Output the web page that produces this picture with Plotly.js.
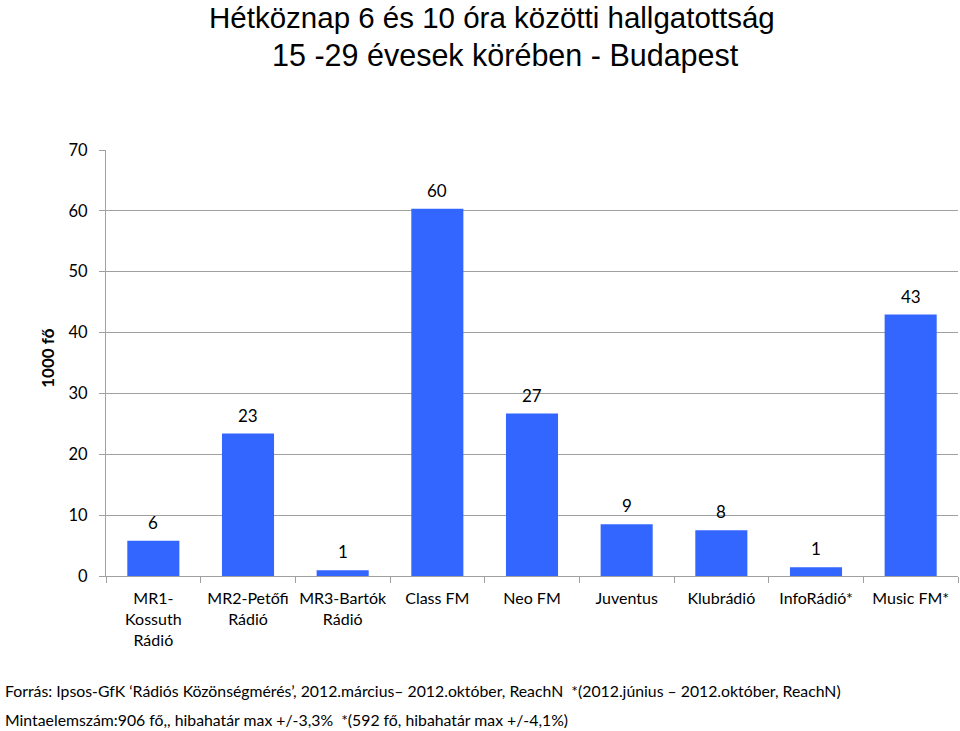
<!DOCTYPE html>
<html>
<head>
<meta charset="utf-8">
<script src="https://cdn.plot.ly/plotly-3.0.1.min.js"></script>
<style>
  html, body { margin: 0; padding: 0; background: #fff; }
  #plot { width: 960px; height: 731px; }
</style>
</head>
<body>
<div id="plot"></div>
<script>
// stations and listeners (1000 fő)
const stations = [
  'MR1-<br>Kossuth<br>Rádió',
  'MR2-Petőfi<br>Rádió',
  'MR3-Bartók<br>Rádió',
  'Class FM',
  'Neo FM',
  'Juventus',
  'Klubrádió',
  'InfoRádió*',
  'Music FM*'
];
const listeners = [5.8, 23.4, 0.95, 60.35, 26.7, 8.5, 7.5, 1.45, 42.95];
const valueLabels = ['6', '23', '1', '60', '27', '9', '8', '1', '43'];

const titleLines = [
  'Hétköznap 6 és 10 óra közötti hallgatottság',
  '15 -29 évesek körében - Budapest'
];
const footnotes = [
  'Forrás: Ipsos-GfK ‘Rádiós Közönségmérés’, 2012.március– 2012.október, ReachN  *(2012.június – 2012.október, ReachN)',
  'Mintaelemszám:906 fő,, hibahatár max +/-3,3%  *(592 fő, hibahatár max +/-4,1%)'
];

const baseFont = 'Lato, "Open Sans", sans-serif';
const gridGray = '#a0a0a0';

const data = [{
  type: 'bar',
  x: stations,
  y: listeners,
  marker: { color: '#3366ff' },
  hoverinfo: 'none'
}];

const annotations = [];
for (let i = 0; i < stations.length; i++) {
  annotations.push({
    x: stations[i],
    y: listeners[i],
    xref: 'x',
    yref: 'y',
    text: valueLabels[i],
    showarrow: false,
    yanchor: 'bottom',
    yshift: 6,
    font: { family: baseFont, size: 17, color: '#000' }
  });
}

// title, two lines placed separately
const titleX = [0.453, 0.469];
const titleY = [1.31, 1.223];
const titleSize = [29.5, 30.5];
for (let i = 0; i < titleLines.length; i++) {
  annotations.push({
    xref: 'paper', yref: 'paper',
    x: titleX[i], y: titleY[i],
    xanchor: 'center', yanchor: 'middle',
    text: titleLines[i],
    showarrow: false,
    font: { family: '"Liberation Sans", Arial, sans-serif', size: titleSize[i], color: '#000' }
  });
}

annotations.push({
  xref: 'paper', yref: 'paper',
  x: -0.068, y: 0.51,
  xanchor: 'center', yanchor: 'middle',
  text: '<b>1000 fő</b>',
  textangle: -90,
  showarrow: false,
  font: { family: baseFont, size: 17, color: '#000' }
});

const footY = [-0.269, -0.337];
for (let i = 0; i < footnotes.length; i++) {
  annotations.push({
    xref: 'paper', yref: 'paper',
    x: -0.121, y: footY[i],
    xanchor: 'left', yanchor: 'middle',
    text: footnotes[i],
    showarrow: false,
    font: { family: baseFont, size: 15.8, color: '#000' }
  });
}

const layout = {
  width: 960,
  height: 731,
  margin: { l: 106, r: 2, t: 150, b: 155 },
  paper_bgcolor: '#fff',
  plot_bgcolor: '#fff',
  showlegend: false,
  bargap: 0.45,
  xaxis: {
    type: 'category',
    tickson: 'boundaries',
    tickangle: 0,
    ticks: 'outside',
    ticklen: 6,
    tickcolor: gridGray,
    showline: true,
    linecolor: gridGray,
    linewidth: 1,
    showgrid: false,
    ticklabelstandoff: 8,
    tickfont: { family: baseFont, size: 16, color: '#000' },
    fixedrange: true
  },
  yaxis: {
    range: [0, 70],
    dtick: 10,
    ticks: 'outside',
    ticklen: 6,
    tickcolor: gridGray,
    showline: true,
    linecolor: gridGray,
    showgrid: true,
    gridcolor: gridGray,
    zeroline: false,
    ticklabelstandoff: 8,
    tickfont: { family: baseFont, size: 16.5, color: '#000' },
    fixedrange: true
  },
  annotations: annotations
};

Plotly.newPlot('plot', data, layout, { displayModeBar: false, staticPlot: true });
</script>
</body>
</html>
